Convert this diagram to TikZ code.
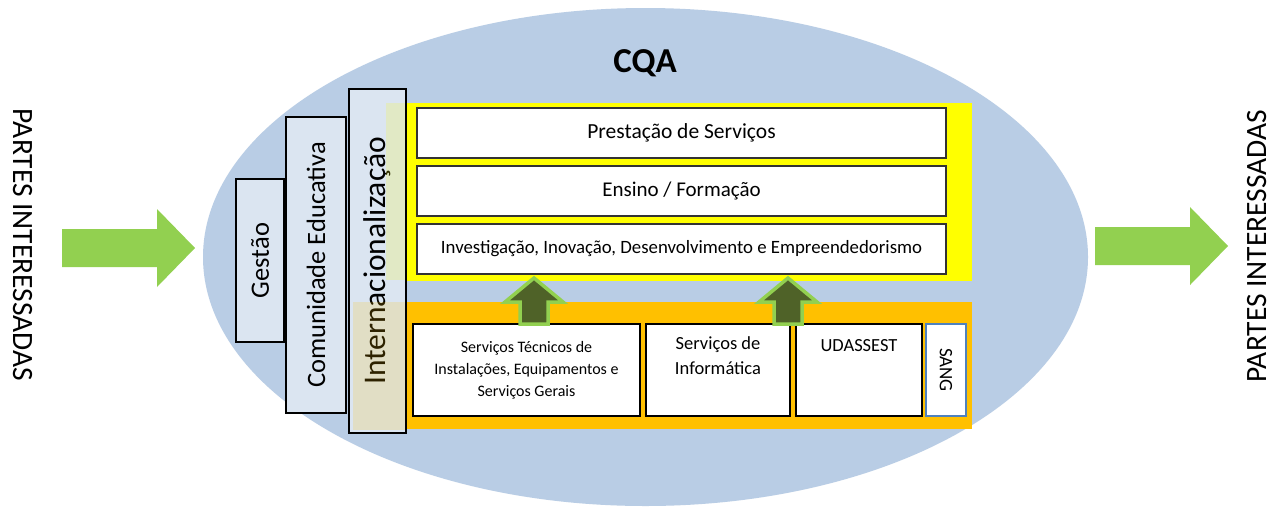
\documentclass[tikz,border=0pt]{standalone}
\usepackage{fontspec}
\setmainfont{Carlito}
\usetikzlibrary{positioning,calc}
\definecolor{elipse}{RGB}{185,205,229}
\definecolor{caixaazul}{RGB}{219,229,241}
\definecolor{verde}{RGB}{146,208,80}
\definecolor{verdeesc}{RGB}{79,98,40}
\definecolor{laranja}{RGB}{255,192,0}
\definecolor{amarelo}{RGB}{255,255,0}
\definecolor{azulsang}{RGB}{79,129,189}
\newcommand{\setalado}[2]{% seta verde deitada
\fill[verde] (#1,#2) ++(0,-19) -- ++(95,0) -- ++(0,-20) -- ++(38,39) -- ++(-38,39) -- ++(0,-20) -- ++(-95,0) -- cycle;
}
\newcommand{\setacima}[1]{% seta verde para cima
\draw[verde,line width=3.5pt,fill=verdeesc,line join=miter] (#1,278) -- ++(29,24) -- ++(-15,0) -- ++(0,22) -- ++(-28,0) -- ++(0,-22) -- ++(-15,0) -- cycle;
}
\tikzstyle{camada}=[draw=black,line width=2pt,fill=caixaazul,outer sep=0pt,inner sep=0pt,rotate=90]
\tikzstyle{servico}=[draw=black!80,line width=1.5pt,fill=white,outer sep=0pt,inner sep=0pt,font=\fontsize{21.5}{23}\selectfont]
\tikzstyle{apoio}=[draw=black,line width=2pt,fill=white,outer sep=0pt,inner sep=0pt,font=\fontsize{16}{22}\selectfont,align=center]
\tikzstyle{partes}=[inner sep=0pt,anchor=base,text depth=0pt,font=\fontsize{29.5}{32}\selectfont]
\begin{document}
\begin{tikzpicture}[x=1pt,y=-1pt]
\useasboundingbox[fill=white] (0,0) rectangle (1268,507);
\fill[elipse] (645.5,257) ellipse (442.5 and 249);
\node[font=\bfseries\fontsize{35}{38}\selectfont] (cqa) at (645,63) {CQA};
%
\node[partes,rotate=-90] (pi1) at (13,245) {PARTES INTERESSADAS};
\node[partes,rotate=90] (pi2) at (1266,246) {PARTES INTERESSADAS};
\setalado{62}{248}
\setalado{1095}{246}
%
\fill[amarelo] (407,103) rectangle (972,281);
\fill[laranja] (407,302) rectangle (972,429);
%
\node[camada,minimum width=163,minimum height=48,font=\fontsize{26.5}{28}\selectfont] (gestao) at (260,260.5) {Gestão};
\node[camada,minimum width=296,minimum height=60,font=\fontsize{26.5}{28}\selectfont] (comunidade) at (316,265) {Comunidade Educativa};
\node[camada,minimum width=344,minimum height=57,font=\fontsize{31.5}{33}\selectfont] (inter) at (377.5,261) {Internacionaliza\c{c}ão};
\fill[amarelo,opacity=.18] (386,103) rectangle (405,280);
\fill[laranja,opacity=.18] (353,302) rectangle (405,430);
%
\node[servico,minimum width=529,minimum height=50,anchor=north west] (prest) at (417,108) {Prestação de Serviços};
\node[servico,minimum width=529,minimum height=50,below=8pt of prest,font=\fontsize{21}{23}\selectfont] (ensino) {Ensino / Formação};
\node[servico,minimum width=529,minimum height=50,below=8pt of ensino,font=\fontsize{18.8}{20}\selectfont] (invest) {Investigação, Inovação, Desenvolvimento e Empreendedorismo};
%
\node[apoio,minimum width=227,minimum height=92,anchor=north west] (tecnicos) at (413,324) {Serviços Técnicos de\\Instalações, Equipamentos e\\Serviços Gerais};
\node[apoio,minimum width=144,minimum height=92,right=6pt of tecnicos,font=\fontsize{18.5}{25}\selectfont,text depth=28pt] (informatica) {Serviços de\\Informática};
\node[apoio,minimum width=126,minimum height=92,right=6pt of informatica,font=\fontsize{18.5}{25}\selectfont,text depth=50pt] (udassest) {UDASSEST};
\node[apoio,draw=azulsang,minimum width=92,minimum height=40,rotate=-90,font=\fontsize{19}{20}\selectfont] (sang) at (946,370) {SANG};
%
\setacima{534}
\setacima{788}
\end{tikzpicture}
\end{document}
